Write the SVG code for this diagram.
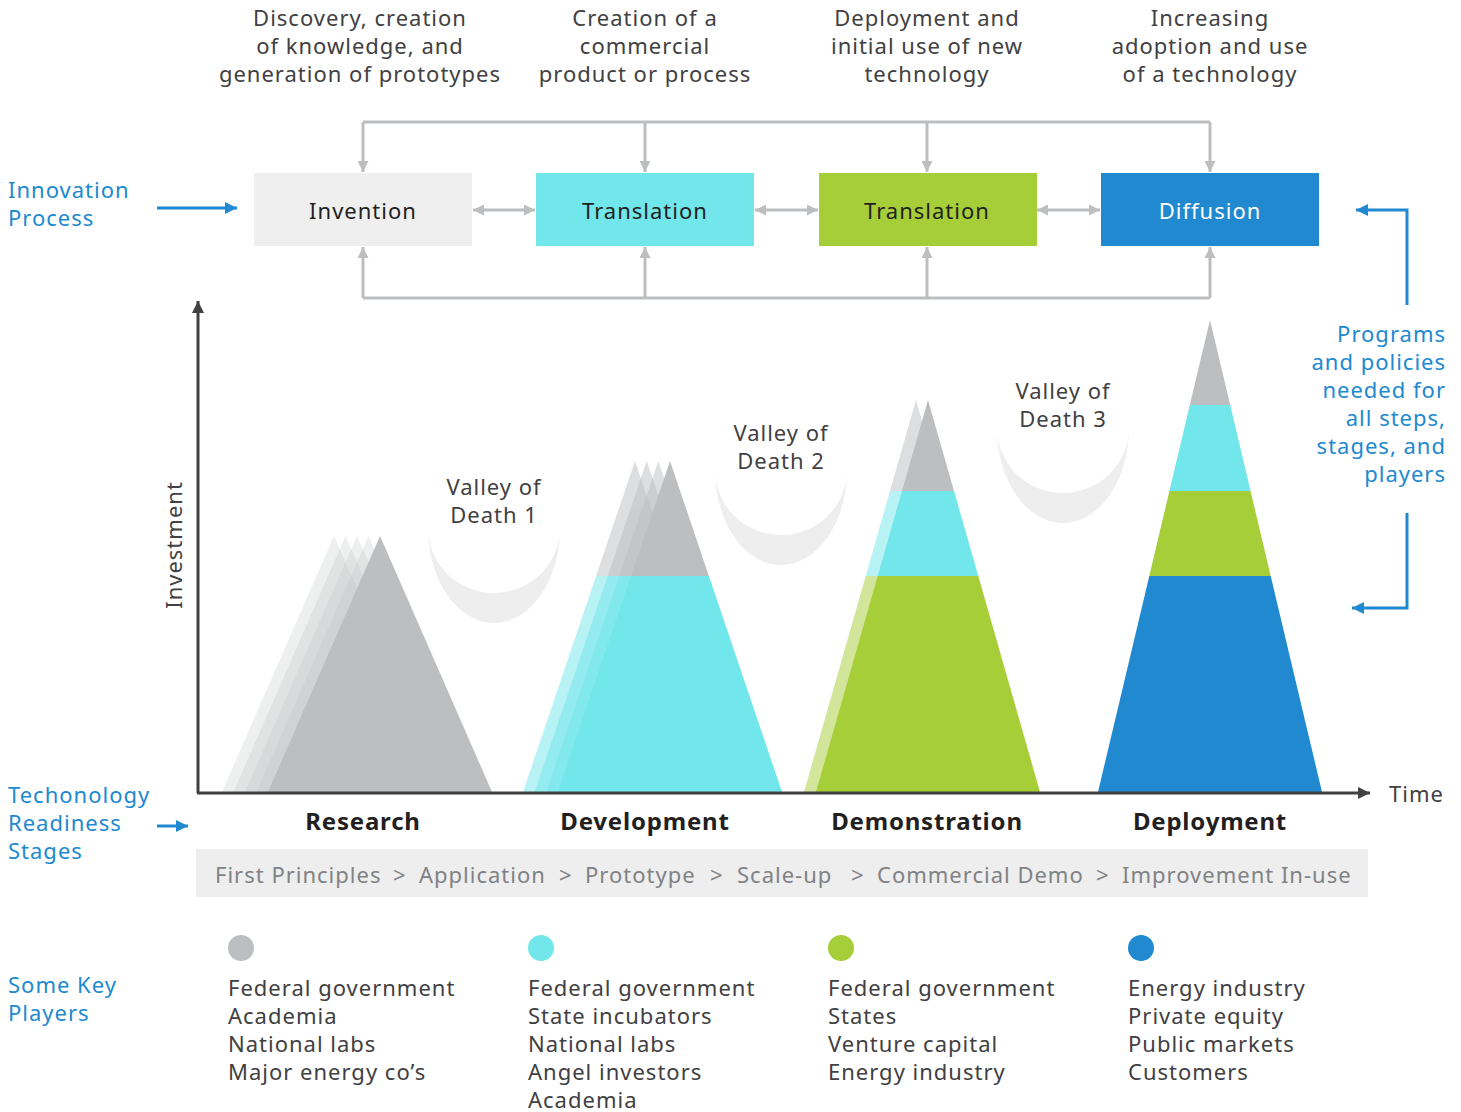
<svg xmlns="http://www.w3.org/2000/svg" xmlns:xlink="http://www.w3.org/1999/xlink" width="1461" height="1112" viewBox="0 0 1461 1112">
<style>
text{font-family:"Noto Sans","Liberation Sans",sans-serif;letter-spacing:1px;}
.t{font-size:22px;fill:#414042;}
.mid{text-anchor:middle;}
.blue{font-size:22px;fill:#2089D0;}
.box{font-size:22px;fill:#231F20;text-anchor:middle;}
.stage{font-size:24px;font-weight:bold;fill:#231F20;text-anchor:middle;letter-spacing:0.8px;}
.trl{font-size:22px;fill:#808285;}
.gl{stroke:#BCBEC0;stroke-width:3;fill:none;}
.bl{stroke:#2089D0;stroke-width:3;fill:none;}
.ax{stroke:#414042;stroke-width:3;fill:none;}
.valley{fill:#EEEEEE;}
</style>
<defs>
<marker id="ag" viewBox="0 0 10 10" refX="10" refY="5" markerWidth="11" markerHeight="11" markerUnits="userSpaceOnUse" orient="auto-start-reverse"><path d="M0,0 L10,5 L0,10 z" fill="#BCBEC0"/></marker>
<marker id="ab" viewBox="0 0 10 10" refX="10" refY="5" markerWidth="12" markerHeight="12" markerUnits="userSpaceOnUse" orient="auto-start-reverse"><path d="M0,0 L10,5 L0,10 z" fill="#2089D0"/></marker>
<marker id="ad" viewBox="0 0 10 10" refX="10" refY="5" markerWidth="12" markerHeight="12" markerUnits="userSpaceOnUse" orient="auto-start-reverse"><path d="M0,0 L10,5 L0,10 z" fill="#414042"/></marker>
<g id="m-research"><path d="M380,536 L492,792 L268,792 Z" fill="#BCBEC0"/></g>
<g id="m-development">
<path d="M670,461 L708.9,576 L631.1,576 Z" fill="#BCBEC0"/>
<path d="M631.1,576 L708.9,576 L782,792 L558,792 Z" fill="#71E6EB"/>
</g>
<g id="m-demonstration">
<path d="M928,400 L954,491 L902,491 Z" fill="#BCBEC0"/>
<path d="M902,491 L954,491 L978.3,576 L877.7,576 Z" fill="#71E6EB"/>
<path d="M877.7,576 L978.3,576 L1040,792 L816,792 Z" fill="#A6CE39"/>
</g>
</defs>

<g id="descriptions">
<text class="t mid" x="360" y="26">Discovery, creation</text>
<text class="t mid" x="360" y="54">of knowledge, and</text>
<text class="t mid" x="360" y="82">generation of prototypes</text>
<text class="t mid" x="645" y="26">Creation of a</text>
<text class="t mid" x="645" y="54">commercial</text>
<text class="t mid" x="645" y="82">product or process</text>
<text class="t mid" x="927" y="26">Deployment and</text>
<text class="t mid" x="927" y="54">initial use of new</text>
<text class="t mid" x="927" y="82">technology</text>
<text class="t mid" x="1210" y="26">Increasing</text>
<text class="t mid" x="1210" y="54">adoption and use</text>
<text class="t mid" x="1210" y="82">of a technology</text>
</g>

<g id="connectors">
<path class="gl" d="M363,122 H1210"/>
<path class="gl" d="M363,122 V172" marker-end="url(#ag)"/>
<path class="gl" d="M645,122 V172" marker-end="url(#ag)"/>
<path class="gl" d="M927,122 V172" marker-end="url(#ag)"/>
<path class="gl" d="M1210,122 V172" marker-end="url(#ag)"/>
<path class="gl" d="M363,298 H1210"/>
<path class="gl" d="M363,298 V247" marker-end="url(#ag)"/>
<path class="gl" d="M645,298 V247" marker-end="url(#ag)"/>
<path class="gl" d="M927,298 V247" marker-end="url(#ag)"/>
<path class="gl" d="M1210,298 V247" marker-end="url(#ag)"/>
<path class="gl" d="M473,210 H535" marker-start="url(#ag)" marker-end="url(#ag)"/>
<path class="gl" d="M755,210 H818" marker-start="url(#ag)" marker-end="url(#ag)"/>
<path class="gl" d="M1037,210 H1100" marker-start="url(#ag)" marker-end="url(#ag)"/>
<path class="bl" d="M157,208 H237" marker-end="url(#ab)"/>
<path class="bl" d="M157,826 H188" marker-end="url(#ab)"/>
<path class="bl" d="M1407,305 V210 H1356" marker-end="url(#ab)"/>
<path class="bl" d="M1407,513 V608 H1352" marker-end="url(#ab)"/>
</g>

<g id="node-invention"><rect x="254" y="173" width="218" height="73" fill="#EFEFEF"/><text class="box" x="363" y="219">Invention</text></g>
<g id="node-translation-1"><rect x="536" y="173" width="218" height="73" fill="#71E6EB"/><text class="box" x="645" y="219">Translation</text></g>
<g id="node-translation-2"><rect x="819" y="173" width="218" height="73" fill="#A6CE39"/><text class="box" x="927" y="219">Translation</text></g>
<g id="node-diffusion"><rect x="1101" y="173" width="218" height="73" fill="#2089D0"/><text class="box" x="1210" y="219" style="fill:#FFFFFF">Diffusion</text></g>

<g id="left-labels">
<text class="blue" x="8" y="198">Innovation</text>
<text class="blue" x="8" y="226">Process</text>
<text class="blue" x="8" y="803">Techonology</text>
<text class="blue" x="8" y="831">Readiness</text>
<text class="blue" x="8" y="859">Stages</text>
<text class="blue" x="8" y="993">Some Key</text>
<text class="blue" x="8" y="1021">Players</text>
</g>

<g id="policies">
<text class="blue" x="1446" y="342" text-anchor="end">Programs</text>
<text class="blue" x="1446" y="370" text-anchor="end">and policies</text>
<text class="blue" x="1446" y="398" text-anchor="end">needed for</text>
<text class="blue" x="1446" y="426" text-anchor="end">all steps,</text>
<text class="blue" x="1446" y="454" text-anchor="end">stages, and</text>
<text class="blue" x="1446" y="482" text-anchor="end">players</text>
</g>

<g id="valleys">
<path class="valley" d="M428,528 A66,95 0 0 0 560,528 A66,65 0 0 1 428,528 Z"/>
<path class="valley" d="M715,470 A66,95 0 0 0 847,470 A66,65 0 0 1 715,470 Z"/>
<path class="valley" d="M997,428 A66,95 0 0 0 1129,428 A66,65 0 0 1 997,428 Z"/>
<text class="t mid" x="494" y="495">Valley of</text>
<text class="t mid" x="494" y="523">Death 1</text>
<text class="t mid" x="781" y="441">Valley of</text>
<text class="t mid" x="781" y="469">Death 2</text>
<text class="t mid" x="1063" y="399">Valley of</text>
<text class="t mid" x="1063" y="427">Death 3</text>
</g>

<g id="mountain-research">
<use xlink:href="#m-research" href="#m-research" transform="translate(-46,0)" opacity="0.25"/>
<use xlink:href="#m-research" href="#m-research" transform="translate(-34.5,0)" opacity="0.25"/>
<use xlink:href="#m-research" href="#m-research" transform="translate(-23,0)" opacity="0.25"/>
<use xlink:href="#m-research" href="#m-research" transform="translate(-11.5,0)" opacity="0.25"/>
<use xlink:href="#m-research" href="#m-research"/>
</g>
<g id="mountain-development">
<use xlink:href="#m-development" href="#m-development" transform="translate(-35,0)" opacity="0.5"/>
<use xlink:href="#m-development" href="#m-development" transform="translate(-23.3,0)" opacity="0.5"/>
<use xlink:href="#m-development" href="#m-development" transform="translate(-11.7,0)" opacity="0.5"/>
<use xlink:href="#m-development" href="#m-development"/>
</g>
<g id="mountain-demonstration">
<use xlink:href="#m-demonstration" href="#m-demonstration" transform="translate(-12,0)" opacity="0.5"/>
<use xlink:href="#m-demonstration" href="#m-demonstration"/>
</g>
<g id="mountain-deployment">
<path d="M1210,320 L1230.2,405 L1189.8,405 Z" fill="#BCBEC0"/>
<path d="M1189.8,405 L1230.2,405 L1250.6,491 L1169.4,491 Z" fill="#71E6EB"/>
<path d="M1169.4,491 L1250.6,491 L1270.7,576 L1149.3,576 Z" fill="#A6CE39"/>
<path d="M1149.3,576 L1270.7,576 L1322,792 L1098,792 Z" fill="#2089D0"/>
</g>

<g id="axes">
<path class="ax" d="M198,793 V301" marker-end="url(#ad)"/>
<path class="ax" d="M197,793 H1370" marker-end="url(#ad)"/>
<text class="t" x="0" y="0" transform="translate(182,545) rotate(-90)" text-anchor="middle">Investment</text>
<text class="t" x="1389" y="802">Time</text>
</g>

<g id="stages">
<text class="stage" x="363" y="830">Research</text>
<text class="stage" x="645" y="830">Development</text>
<text class="stage" x="927" y="830">Demonstration</text>
<text class="stage" x="1210" y="830">Deployment</text>
</g>

<g id="trl-bar">
<rect x="196" y="849" width="1172" height="48" fill="#EEEEEE"/>
<text class="trl" x="215" y="883">First Principles</text>
<text class="trl" x="393" y="883">&gt;</text>
<text class="trl" x="419" y="883">Application</text>
<text class="trl" x="559" y="883">&gt;</text>
<text class="trl" x="585" y="883">Prototype</text>
<text class="trl" x="710" y="883">&gt;</text>
<text class="trl" x="737" y="883">Scale-up</text>
<text class="trl" x="851" y="883">&gt;</text>
<text class="trl" x="877" y="883">Commercial Demo</text>
<text class="trl" x="1096" y="883">&gt;</text>
<text class="trl" x="1122" y="883">Improvement In-use</text>
</g>

<g id="players-research">
<circle cx="241" cy="948" r="13" fill="#BCBEC0"/>
<text class="t" x="228" y="996">Federal government</text>
<text class="t" x="228" y="1024">Academia</text>
<text class="t" x="228" y="1052">National labs</text>
<text class="t" x="228" y="1080">Major energy co’s</text>
</g>
<g id="players-development">
<circle cx="541" cy="948" r="13" fill="#71E6EB"/>
<text class="t" x="528" y="996">Federal government</text>
<text class="t" x="528" y="1024">State incubators</text>
<text class="t" x="528" y="1052">National labs</text>
<text class="t" x="528" y="1080">Angel investors</text>
<text class="t" x="528" y="1108">Academia</text>
</g>
<g id="players-demonstration">
<circle cx="841" cy="948" r="13" fill="#A6CE39"/>
<text class="t" x="828" y="996">Federal government</text>
<text class="t" x="828" y="1024">States</text>
<text class="t" x="828" y="1052">Venture capital</text>
<text class="t" x="828" y="1080">Energy industry</text>
</g>
<g id="players-deployment">
<circle cx="1141" cy="948" r="13" fill="#2089D0"/>
<text class="t" x="1128" y="996">Energy industry</text>
<text class="t" x="1128" y="1024">Private equity</text>
<text class="t" x="1128" y="1052">Public markets</text>
<text class="t" x="1128" y="1080">Customers</text>
</g>
</svg>
